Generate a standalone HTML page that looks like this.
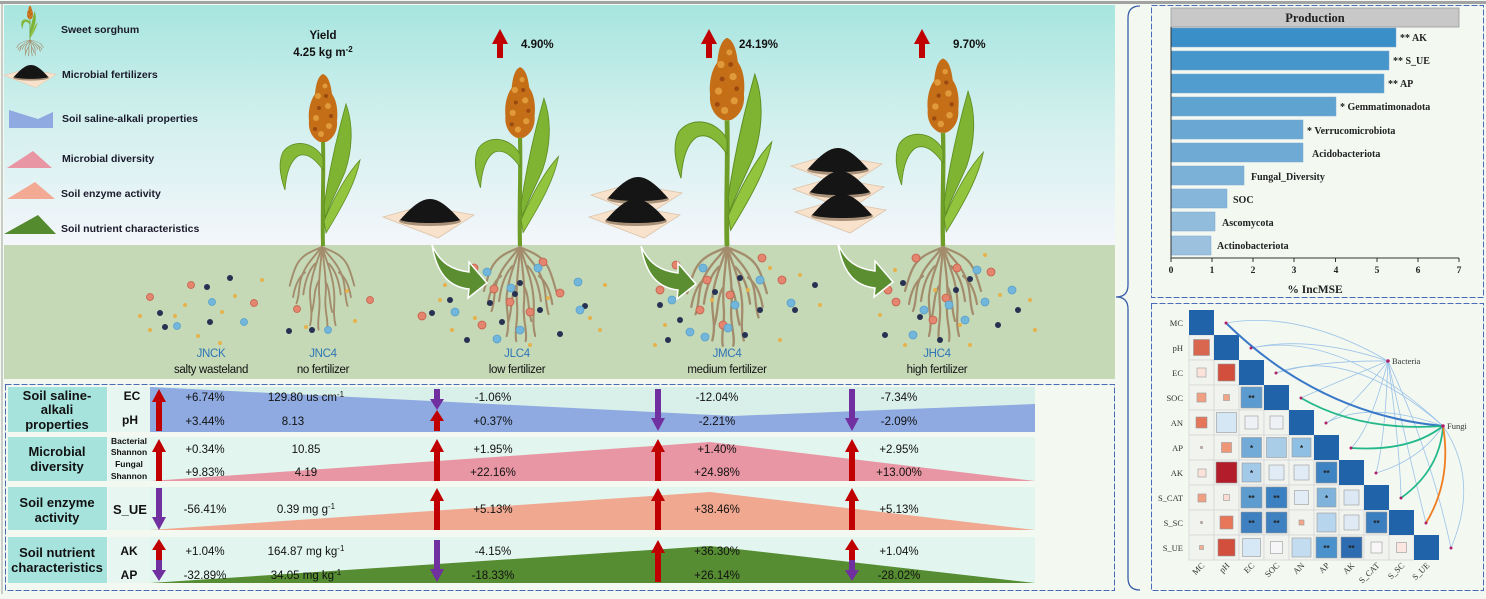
<!DOCTYPE html>
<html><head><meta charset="utf-8"><style>
html,body{margin:0;padding:0;background:#f3f8f1;}
svg{display:block;}
</style></head><body>
<svg width="1486" height="599" viewBox="0 0 1486 599" xmlns="http://www.w3.org/2000/svg" font-family="'Liberation Sans', Arial, sans-serif">
<defs>
<linearGradient id="sky" x1="0" y1="0" x2="0" y2="1">
<stop offset="0" stop-color="#a7e5df"/><stop offset="0.5" stop-color="#d3f0ee"/><stop offset="1" stop-color="#f4f6fb"/>
</linearGradient>
<g id="plant">
<path d="M0,-104 C1,-70 -1,-35 0,0" stroke="#6e9e28" stroke-width="4" fill="none"/>
<path d="M0,-88 C-8,-104 -30,-108 -40,-94 C-45,-84 -43,-70 -38,-56 C-37,-70 -34,-84 -25,-90 C-16,-94 -7,-86 0,-76 Z" fill="#86b838" stroke="#5e8e22" stroke-width="0.8"/>
<path d="M1,-40 C6,-75 14,-110 23,-142 C31,-120 29,-95 22,-74 C15,-57 8,-45 2,-28 Z" fill="#7fb332" stroke="#5e8e22" stroke-width="0.8"/>
<path d="M1,-25 C10,-46 23,-71 37,-86 C33,-65 22,-44 3,-13 Z" fill="#93c43e" stroke="#5e8e22" stroke-width="0.8"/>
<path d="M0,-172 C6,-170 8,-160 9,-152 C14,-145 15,-135 14,-125 C15,-115 10,-107 3,-104 L-3,-104 C-10,-107 -15,-115 -14,-125 C-15,-135 -13,-145 -8,-152 C-7,-162 -5,-170 0,-172 Z" fill="#c46e18"/>
<circle cx="-5" cy="-150" r="3" fill="#e09a3a"/><circle cx="5" cy="-140" r="3" fill="#e09a3a"/><circle cx="-7" cy="-128" r="3" fill="#e09a3a"/><circle cx="6" cy="-120" r="3" fill="#e09a3a"/><circle cx="-2" cy="-112" r="3" fill="#e09a3a"/><circle cx="2" cy="-160" r="2.5" fill="#e09a3a"/>
<circle cx="3" cy="-150" r="2" fill="#9a4a10"/><circle cx="-4" cy="-138" r="2" fill="#9a4a10"/><circle cx="8" cy="-130" r="2" fill="#9a4a10"/><circle cx="-8" cy="-117" r="2" fill="#9a4a10"/>
</g>
<g id="roots" stroke="#a38c6c" fill="none" stroke-width="2.2" stroke-linecap="round">
<path d="M0,0 C-6,10 -18,18 -24,35 C-28,45 -26,55 -30,65"/>
<path d="M0,0 C-4,15 -12,30 -14,50 C-15,65 -10,75 -14,90"/>
<path d="M0,0 C-1,20 -5,40 -3,60 C-2,75 -6,85 -4,95"/>
<path d="M0,0 C2,20 6,40 4,60 C3,75 8,85 6,95"/>
<path d="M0,0 C4,15 12,30 14,50 C16,65 12,75 16,90"/>
<path d="M0,0 C6,10 18,18 24,35 C28,45 26,55 30,68"/>
<path d="M-2,2 C-12,6 -24,10 -30,22 C-34,30 -36,38 -38,45"/>
<path d="M2,2 C12,6 24,10 30,22 C34,30 36,38 38,45"/>
<path d="M-8,20 C-16,28 -20,40 -22,55"/>
<path d="M8,20 C16,28 20,40 22,55"/>
<path d="M-4,40 C-10,50 -8,62 -12,75"/>
<path d="M4,40 C10,50 8,62 12,75"/>
<path d="M-20,30 C-28,36 -32,46 -34,58"/>
<path d="M20,30 C28,36 32,46 34,58"/>
</g>
<g id="pile">
<polygon points="-47,-1 -8,-12 44,-3 8,20" fill="#f8e2cc" stroke="#dcc4aa" stroke-width="0.8"/>
<ellipse cx="0" cy="3" rx="31" ry="5" fill="#a89078"/>
<path d="M-30,2 C-22,-7 -11,-19 0,-19 C11,-19 22,-7 30,2 C20,6 -20,6 -30,2Z" fill="#151515"/>
</g>
<path id="garrow" d="M0,0 C8,18 20,25 37,27 L37,17 L55,38 L36,53 L37,44 C18,42 5,30 0,0 Z" fill="#5a8e30" stroke="#ffffff" stroke-width="1.5"/>
<polygon id="aUF" points="0,0 7,13 3,13 3,42 -3,42 -3,13 -7,13" fill="#c00000"/>
<polygon id="aDF" points="0,42 7,29 3,29 3,0 -3,0 -3,29 -7,29" fill="#7030a0"/>
<polygon id="aUH" points="0,0 7,11 3,11 3,21 -3,21 -3,11 -7,11" fill="#c00000"/>
<polygon id="aDH" points="0,21 7,10 3,10 3,0 -3,0 -3,10 -7,10" fill="#7030a0"/>
<polygon id="yArr" points="0,0 8,15 3,15 3,29 -3,29 -3,15 -8,15" fill="#c00000"/>
</defs>

<rect x="0" y="0" width="1486" height="599" fill="#f3f8f1"/>
<rect x="0" y="1" width="1486" height="3" fill="#a2a2a2"/>
<rect x="1" y="4" width="2" height="590" fill="#c8cdc8"/>

<!-- sky & soil -->
<rect x="4" y="5" width="1111" height="240" fill="url(#sky)"/>
<rect x="4" y="245" width="1111" height="134" fill="#c5d9b7"/>

<!-- legend -->
<use href="#plant" transform="translate(30,40) scale(0.2)"/>
<use href="#roots" transform="translate(30,40) scale(0.35,0.17)"/>
<text x="61" y="33" font-size="10.5" font-weight="bold" fill="#1a1a2a">Sweet sorghum</text>
<g transform="translate(31,76) scale(0.58)"><use href="#pile"/></g>
<text x="62" y="78" font-size="10.5" font-weight="bold" fill="#1a1a2a">Microbial fertilizers</text>
<polygon points="9,110 38,119 53,112 53,128 9,128" fill="#8eaae0"/>
<text x="62" y="122" font-size="10.5" font-weight="bold" fill="#1a1a2a">Soil saline-alkali properties</text>
<polygon points="7,168 33,151 52,168" fill="#e996a4"/>
<text x="62" y="162" font-size="10.5" font-weight="bold" fill="#1a1a2a">Microbial diversity</text>
<polygon points="7,199 35,182 55,199" fill="#f2aa94"/>
<text x="61" y="197" font-size="10.5" font-weight="bold" fill="#1a1a2a">Soil enzyme activity</text>
<polygon points="4,234 38,215 56,234" fill="#558b2f"/>
<text x="61" y="232" font-size="10.5" font-weight="bold" fill="#1a1a2a">Soil nutrient characteristics</text>

<!-- yield texts -->
<text x="323" y="39" font-size="11.5" font-weight="bold" text-anchor="middle" fill="#111">Yield</text>
<text x="323" y="56" font-size="11.5" font-weight="bold" text-anchor="middle" fill="#111">4.25 kg m<tspan dy="-4" font-size="8">-2</tspan></text>
<use href="#yArr" x="500" y="29"/>
<text x="521" y="48" font-size="11.5" font-weight="bold" fill="#111">4.90%</text>
<use href="#yArr" x="709" y="29"/>
<text x="739" y="48" font-size="11.5" font-weight="bold" fill="#111">24.19%</text>
<use href="#yArr" x="922" y="29"/>
<text x="953" y="48" font-size="11.5" font-weight="bold" fill="#111">9.70%</text>

<!-- roots -->
<use href="#roots" transform="translate(322,246) scale(0.85,0.88)"/>
<use href="#roots" transform="translate(520,246) scale(0.95,1.0)"/>
<use href="#roots" transform="translate(727,246) scale(1.05,1.05)"/>
<use href="#roots" transform="translate(943,246) scale(1.0,1.0)"/>

<!-- dots -->
<g stroke-width="0.8">
<g fill="#e4856f" stroke="#c4604a">
<circle cx="150" cy="297" r="3.5"/><circle cx="191" cy="285" r="3.5"/><circle cx="297" cy="309" r="3.5"/><circle cx="370" cy="300" r="3.5"/><circle cx="254" cy="303" r="3.5"/>
<circle cx="422" cy="316" r="4"/><circle cx="474" cy="268" r="4"/><circle cx="494" cy="289" r="4"/><circle cx="510" cy="302" r="4"/><circle cx="543" cy="262" r="4"/><circle cx="560" cy="293" r="4"/><circle cx="482" cy="325" r="4"/><circle cx="530" cy="312" r="4"/>
<circle cx="660" cy="290" r="4"/><circle cx="676" cy="265" r="4"/><circle cx="707" cy="280" r="4"/><circle cx="730" cy="295" r="4"/><circle cx="762" cy="258" r="4"/><circle cx="782" cy="280" r="4"/><circle cx="700" cy="310" r="4"/><circle cx="723" cy="325" r="4"/>
<circle cx="888" cy="290" r="4"/><circle cx="896" cy="302" r="4"/><circle cx="916" cy="258" r="4"/><circle cx="957" cy="268" r="4"/><circle cx="946" cy="298" r="4"/><circle cx="991" cy="272" r="4"/><circle cx="933" cy="320" r="4"/>
</g>
<g fill="#283152">
<circle cx="160" cy="313" r="3"/><circle cx="165" cy="327" r="3"/><circle cx="210" cy="322" r="3"/><circle cx="207" cy="287" r="3"/><circle cx="289" cy="331" r="3"/><circle cx="312" cy="330" r="3"/><circle cx="230" cy="278" r="3"/>
<circle cx="432" cy="313" r="3"/><circle cx="450" cy="300" r="3"/><circle cx="490" cy="303" r="3"/><circle cx="502" cy="322" r="3"/><circle cx="515" cy="294" r="3"/><circle cx="540" cy="310" r="3"/><circle cx="560" cy="334" r="3"/><circle cx="585" cy="306" r="3"/><circle cx="520" cy="283" r="3"/><circle cx="467" cy="340" r="3"/>
<circle cx="660" cy="305" r="3"/><circle cx="680" cy="320" r="3"/><circle cx="715" cy="292" r="3"/><circle cx="740" cy="278" r="3"/><circle cx="760" cy="310" r="3"/><circle cx="795" cy="310" r="3"/><circle cx="668" cy="340" r="3"/><circle cx="745" cy="335" r="3"/><circle cx="815" cy="285" r="3"/>
<circle cx="903" cy="283" r="3"/><circle cx="920" cy="317" r="3"/><circle cx="956" cy="290" r="3"/><circle cx="970" cy="279" r="3"/><circle cx="998" cy="325" r="3"/><circle cx="1018" cy="310" r="3"/><circle cx="940" cy="340" r="3"/><circle cx="885" cy="335" r="3"/>
</g>
<g fill="#72b6dc" stroke="#5aa0c8">
<circle cx="177" cy="326" r="3.5"/><circle cx="212" cy="302" r="3.5"/><circle cx="244" cy="322" r="3.5"/><circle cx="328" cy="330" r="3.5"/>
<circle cx="455" cy="312" r="4"/><circle cx="487" cy="272" r="4"/><circle cx="511" cy="288" r="4"/><circle cx="538" cy="268" r="4"/><circle cx="578" cy="282" r="4"/><circle cx="580" cy="310" r="4"/><circle cx="520" cy="330" r="4"/><circle cx="497" cy="339" r="4"/>
<circle cx="672" cy="300" r="4"/><circle cx="703" cy="268" r="4"/><circle cx="735" cy="305" r="4"/><circle cx="760" cy="280" r="4"/><circle cx="791" cy="303" r="4"/><circle cx="690" cy="332" r="4"/><circle cx="728" cy="328" r="4"/><circle cx="705" cy="337" r="4"/>
<circle cx="924" cy="310" r="4"/><circle cx="949" cy="305" r="4"/><circle cx="977" cy="270" r="4"/><circle cx="965" cy="320" r="4"/><circle cx="1012" cy="290" r="4"/><circle cx="913" cy="335" r="4"/><circle cx="985" cy="302" r="4"/>
</g>
<g fill="#e6b24c">
<circle cx="185" cy="305" r="2"/><circle cx="175" cy="316" r="2"/><circle cx="198" cy="336" r="2"/><circle cx="222" cy="312" r="2"/><circle cx="262" cy="280" r="2"/><circle cx="306" cy="327" r="2"/><circle cx="347" cy="291" r="2"/><circle cx="355" cy="321" r="2"/><circle cx="220" cy="343" r="2"/><circle cx="150" cy="330" r="2"/><circle cx="140" cy="316" r="2"/><circle cx="235" cy="296" r="2"/>
<circle cx="440" cy="300" r="2"/><circle cx="452" cy="330" r="2"/><circle cx="475" cy="318" r="2"/><circle cx="548" cy="298" r="2"/><circle cx="590" cy="318" r="2"/><circle cx="470" cy="290" r="2"/><circle cx="605" cy="285" r="2"/><circle cx="600" cy="330" r="2"/><circle cx="530" cy="345" r="2"/><circle cx="445" cy="285" r="2"/>
<circle cx="650" cy="270" r="2"/><circle cx="665" cy="325" r="2"/><circle cx="690" cy="285" r="2"/><circle cx="712" cy="300" r="2"/><circle cx="748" cy="290" r="2"/><circle cx="770" cy="268" r="2"/><circle cx="800" cy="275" r="2"/><circle cx="820" cy="305" r="2"/><circle cx="655" cy="345" r="2"/><circle cx="780" cy="340" r="2"/>
<circle cx="880" cy="315" r="2"/><circle cx="895" cy="270" r="2"/><circle cx="935" cy="290" r="2"/><circle cx="960" cy="325" r="2"/><circle cx="985" cy="255" r="2"/><circle cx="1000" cy="295" r="2"/><circle cx="1030" cy="300" r="2"/><circle cx="1035" cy="330" r="2"/><circle cx="905" cy="345" r="2"/><circle cx="970" cy="345" r="2"/>
</g>
</g>

<!-- plants -->
<use href="#plant" transform="translate(323,246) scale(1)"/>
<use href="#plant" transform="translate(520,246) scale(1.04)"/>
<use href="#plant" transform="translate(727,246) scale(1.21)"/>
<use href="#plant" transform="translate(943,246) scale(1.09)"/>

<!-- fertilizer piles (top drawn first) -->
<use href="#pile" transform="translate(430,218)"/>
<use href="#pile" transform="translate(638,196)"/>
<use href="#pile" transform="translate(636,218)"/>
<use href="#pile" transform="translate(838,167)"/>
<use href="#pile" transform="translate(840,190)"/>
<use href="#pile" transform="translate(842,213)"/>

<!-- green arrows -->
<use href="#garrow" transform="translate(432,245)"/>
<use href="#garrow" transform="translate(641,246)"/>
<use href="#garrow" transform="translate(838,244)"/>

<!-- treatment labels -->
<g font-size="11.5" text-anchor="middle" letter-spacing="-0.3">
<text x="211" y="357" fill="#2e75b6">JNCK</text><text x="211" y="373" fill="#111">salty wasteland</text>
<text x="323" y="357" fill="#2e75b6">JNC4</text><text x="323" y="373" fill="#111">no fertilizer</text>
<text x="517" y="357" fill="#2e75b6">JLC4</text><text x="517" y="373" fill="#111">low fertilizer</text>
<text x="727" y="357" fill="#2e75b6">JMC4</text><text x="727" y="373" fill="#111">medium fertilizer</text>
<text x="937" y="357" fill="#2e75b6">JHC4</text><text x="937" y="373" fill="#111">high fertilizer</text>
</g>

<!-- ===== TABLE ===== -->
<rect x="5.5" y="384.5" width="1109" height="206" fill="none" stroke="#4a6cb8" stroke-width="1" stroke-dasharray="6 2"/>
<g>
<rect x="8" y="387" width="99" height="45" fill="#a6e3dd"/>
<rect x="8" y="437" width="99" height="44" fill="#a6e3dd"/>
<rect x="8" y="487" width="99" height="43" fill="#a6e3dd"/>
<rect x="8" y="537" width="99" height="46" fill="#a6e3dd"/>
<rect x="108" y="387" width="42" height="45" fill="#e8f6f2"/>
<rect x="108" y="437" width="42" height="44" fill="#e8f6f2"/>
<rect x="108" y="487" width="42" height="43" fill="#e8f6f2"/>
<rect x="108" y="537" width="42" height="46" fill="#e8f6f2"/>
<rect x="150" y="387" width="885" height="45" fill="#d9efea"/>
<rect x="150" y="437" width="885" height="44" fill="#e2f5ef"/>
<rect x="150" y="487" width="885" height="43" fill="#e2f5ef"/>
<rect x="150" y="537" width="885" height="46" fill="#e2f5ef"/>
</g>
<polygon points="150,387 733,416 1035,404 1035,432 150,432" fill="#8eaae0"/>
<polygon points="150,481 710,442 1035,481" fill="#e996a4"/>
<polygon points="150,530 710,492 1035,530" fill="#f0a890"/>
<polygon points="150,583 710,546 1035,583" fill="#568c32"/>

<g font-size="13" font-weight="bold" text-anchor="middle" fill="#111">
<text x="57" y="400">Soil saline-</text><text x="57" y="414">alkali</text><text x="57" y="429">properties</text>
<text x="57" y="456">Microbial</text><text x="57" y="471">diversity</text>
<text x="57" y="507">Soil enzyme</text><text x="57" y="522">activity</text>
<text x="57" y="557">Soil nutrient</text><text x="57" y="572">characteristics</text>
<text x="132" y="400" font-size="12">EC</text><text x="130" y="424" font-size="12">pH</text>
<text x="130" y="514">S_UE</text>
<text x="129" y="555" font-size="12">AK</text><text x="129" y="579" font-size="12">AP</text>
<g font-size="8.5"><text x="129" y="444">Bacterial</text><text x="129" y="455">Shannon</text><text x="129" y="467">Fungal</text><text x="129" y="479">Shannon</text></g>
</g>

<g font-size="11.5" text-anchor="middle" fill="#111">
<text x="205" y="401">+6.74%</text><text x="306" y="401">129.80 us cm<tspan dy="-4" font-size="8">-1</tspan></text><text x="493" y="401">-1.06%</text><text x="717" y="401">-12.04%</text><text x="899" y="401">-7.34%</text>
<text x="205" y="425">+3.44%</text><text x="293" y="425">8.13</text><text x="493" y="425">+0.37%</text><text x="717" y="425">-2.21%</text><text x="899" y="425">-2.09%</text>
<text x="205" y="453">+0.34%</text><text x="306" y="453">10.85</text><text x="493" y="453">+1.95%</text><text x="717" y="453">+1.40%</text><text x="899" y="453">+2.95%</text>
<text x="205" y="476">+9.83%</text><text x="306" y="476">4.19</text><text x="493" y="476">+22.16%</text><text x="717" y="476">+24.98%</text><text x="899" y="476">+13.00%</text>
<text x="205" y="513">-56.41%</text><text x="306" y="513">0.39 mg g<tspan dy="-4" font-size="8">-1</tspan></text><text x="493" y="513">+5.13%</text><text x="717" y="513">+38.46%</text><text x="899" y="513">+5.13%</text>
<text x="205" y="555">+1.04%</text><text x="306" y="555">164.87 mg kg<tspan dy="-4" font-size="8">-1</tspan></text><text x="493" y="555">-4.15%</text><text x="717" y="555">+36.30%</text><text x="899" y="555">+1.04%</text>
<text x="205" y="579">-32.89%</text><text x="306" y="579">34.05 mg kg<tspan dy="-4" font-size="8">-1</tspan></text><text x="493" y="579">-18.33%</text><text x="717" y="579">+26.14%</text><text x="899" y="579">-28.02%</text>
</g>

<!-- table arrows -->
<use href="#aUF" x="159" y="389"/><use href="#aDH" x="437" y="389"/><use href="#aUH" x="437" y="410"/><use href="#aDF" x="658" y="389"/><use href="#aDF" x="852" y="389"/>
<use href="#aUF" x="159" y="439"/><use href="#aUF" x="437" y="439"/><use href="#aUF" x="658" y="439"/><use href="#aUF" x="852" y="439"/>
<use href="#aDF" x="159" y="488"/><use href="#aUF" x="437" y="488"/><use href="#aUF" x="658" y="488"/><use href="#aUF" x="852" y="488"/>
<use href="#aUH" x="159" y="539"/><use href="#aDH" x="159" y="560"/><use href="#aDF" x="437" y="540"/><use href="#aUF" x="658" y="540"/><use href="#aUH" x="852" y="539"/><use href="#aDH" x="852" y="560"/>

<!-- brace -->
<path d="M1140,6 Q1128,6 1128,18 L1128,285 Q1128,297 1116,297 Q1128,297 1128,309 L1128,578 Q1128,590 1140,590" fill="none" stroke="#3a5fa8" stroke-width="1.3"/>

<!-- ===== BAR CHART ===== -->
<rect x="1151.5" y="5.5" width="332" height="292" fill="none" stroke="#4a6cb8" stroke-dasharray="6 2"/>
<rect x="1171" y="8" width="288" height="19" fill="#c8c8c8" stroke="#9a9a9a" stroke-width="0.8"/>
<text x="1315" y="22" font-family="'Liberation Serif', serif" font-size="12.5" font-weight="bold" text-anchor="middle" fill="#222">Production</text>
<g stroke="#7aa6d0" stroke-width="0.5">
<rect x="1171" y="28" width="225" height="19" fill="#3a8fc8"/>
<rect x="1171" y="51" width="218" height="19" fill="#4696cc"/>
<rect x="1171" y="74" width="213" height="19" fill="#529dcf"/>
<rect x="1171" y="97" width="165" height="19" fill="#5fa3d1"/>
<rect x="1171" y="120" width="132" height="19" fill="#6aa8d3"/>
<rect x="1171" y="143" width="132" height="19" fill="#6eaad4"/>
<rect x="1171" y="166" width="73" height="19" fill="#7cb1d7"/>
<rect x="1171" y="189" width="56" height="19" fill="#86b6da"/>
<rect x="1171" y="212" width="44" height="19" fill="#92bcdc"/>
<rect x="1171" y="236" width="40" height="19" fill="#9bc1de"/>
</g>
<g font-family="'Liberation Serif', serif" font-size="10" font-weight="bold" fill="#222">
<text x="1400" y="41">** AK</text>
<text x="1393" y="64">** S_UE</text>
<text x="1388" y="87">** AP</text>
<text x="1340" y="110">* Gemmatimonadota</text>
<text x="1307" y="134">* Verrucomicrobiota</text>
<text x="1312" y="157">Acidobacteriota</text>
<text x="1251" y="180">Fungal_Diversity</text>
<text x="1233" y="203">SOC</text>
<text x="1222" y="226">Ascomycota</text>
<text x="1217" y="249">Actinobacteriota</text>
</g>
<line x1="1171" y1="27" x2="1171" y2="258" stroke="#333" stroke-width="1"/>
<line x1="1171" y1="258" x2="1459" y2="258" stroke="#333" stroke-width="1"/>
<g stroke="#333" stroke-width="1">
<line x1="1171" y1="258" x2="1171" y2="262"/><line x1="1212" y1="258" x2="1212" y2="262"/><line x1="1253" y1="258" x2="1253" y2="262"/><line x1="1294" y1="258" x2="1294" y2="262"/><line x1="1335.5" y1="258" x2="1335.5" y2="262"/><line x1="1377" y1="258" x2="1377" y2="262"/><line x1="1418" y1="258" x2="1418" y2="262"/><line x1="1459" y1="258" x2="1459" y2="262"/>
</g>
<g font-family="'Liberation Serif', serif" font-size="9.5" font-weight="bold" fill="#222" text-anchor="middle">
<text x="1171" y="273">0</text><text x="1212" y="273">1</text><text x="1253" y="273">2</text><text x="1294" y="273">3</text><text x="1336" y="273">4</text><text x="1377" y="273">5</text><text x="1418" y="273">6</text><text x="1459" y="273">7</text>
<text x="1315" y="293" font-size="11.5">% IncMSE</text>
</g>

<!-- ===== CORRELATION ===== -->
<rect x="1151.5" y="303.5" width="332" height="287" fill="none" stroke="#4a6cb8" stroke-dasharray="6 2"/>
<g fill="#f1f3ef" stroke="#d6d6d6" stroke-width="0.8">
<rect x="1189" y="335" width="25" height="25"/>
<rect x="1189" y="360" width="25" height="25"/><rect x="1214" y="360" width="25" height="25"/>
<rect x="1189" y="385" width="25" height="25"/><rect x="1214" y="385" width="25" height="25"/><rect x="1239" y="385" width="25" height="25"/>
<rect x="1189" y="410" width="25" height="25"/><rect x="1214" y="410" width="25" height="25"/><rect x="1239" y="410" width="25" height="25"/><rect x="1264" y="410" width="25" height="25"/>
<rect x="1189" y="435" width="25" height="25"/><rect x="1214" y="435" width="25" height="25"/><rect x="1239" y="435" width="25" height="25"/><rect x="1264" y="435" width="25" height="25"/><rect x="1289" y="435" width="25" height="25"/>
<rect x="1189" y="460" width="25" height="25"/><rect x="1214" y="460" width="25" height="25"/><rect x="1239" y="460" width="25" height="25"/><rect x="1264" y="460" width="25" height="25"/><rect x="1289" y="460" width="25" height="25"/><rect x="1314" y="460" width="25" height="25"/>
<rect x="1189" y="485" width="25" height="25"/><rect x="1214" y="485" width="25" height="25"/><rect x="1239" y="485" width="25" height="25"/><rect x="1264" y="485" width="25" height="25"/><rect x="1289" y="485" width="25" height="25"/><rect x="1314" y="485" width="25" height="25"/><rect x="1339" y="485" width="25" height="25"/>
<rect x="1189" y="510" width="25" height="25"/><rect x="1214" y="510" width="25" height="25"/><rect x="1239" y="510" width="25" height="25"/><rect x="1264" y="510" width="25" height="25"/><rect x="1289" y="510" width="25" height="25"/><rect x="1314" y="510" width="25" height="25"/><rect x="1339" y="510" width="25" height="25"/><rect x="1364" y="510" width="25" height="25"/>
<rect x="1189" y="535" width="25" height="25"/><rect x="1214" y="535" width="25" height="25"/><rect x="1239" y="535" width="25" height="25"/><rect x="1264" y="535" width="25" height="25"/><rect x="1289" y="535" width="25" height="25"/><rect x="1314" y="535" width="25" height="25"/><rect x="1339" y="535" width="25" height="25"/><rect x="1364" y="535" width="25" height="25"/><rect x="1389" y="535" width="25" height="25"/>
</g>
<g fill="#2163a9">
<rect x="1189" y="310" width="25" height="25"/><rect x="1214" y="335" width="25" height="25"/><rect x="1239" y="360" width="25" height="25"/><rect x="1264" y="385" width="25" height="25"/><rect x="1289" y="410" width="25" height="25"/><rect x="1314" y="435" width="25" height="25"/><rect x="1339" y="460" width="25" height="25"/><rect x="1364" y="485" width="25" height="25"/><rect x="1389" y="510" width="25" height="25"/><rect x="1414" y="535" width="25" height="25"/>
</g>
<g stroke="#9a9a9a" stroke-width="0.6">
<rect x="1193.5" y="339.5" width="16" height="16" fill="#d9664e"/>
<rect x="1197" y="368" width="9" height="9" fill="#fbe3da"/><rect x="1218" y="364" width="17" height="17" fill="#d24e3d"/>
<rect x="1197" y="393" width="9" height="9" fill="#f0a080"/><rect x="1223.5" y="394.5" width="6" height="6" fill="#f2a585"/><rect x="1241" y="387" width="21" height="21" fill="#5b9bd0"/>
<rect x="1196" y="417" width="11" height="11" fill="#e6765a"/><rect x="1216.5" y="412.5" width="20" height="20" fill="#d5e6f4"/><rect x="1245" y="416" width="13" height="13" fill="#eef2f6"/><rect x="1270" y="416" width="13" height="13" fill="#eef2f6"/>
<rect x="1200.5" y="446.5" width="2" height="2" fill="#d0a090"/><rect x="1221.5" y="442.5" width="10" height="10" fill="#ee9676"/><rect x="1241.5" y="437.5" width="20" height="20" fill="#72abd8"/><rect x="1266.5" y="437.5" width="20" height="20" fill="#a9cde7"/><rect x="1292" y="438" width="19" height="19" fill="#8fbfe2"/>
<rect x="1198" y="469" width="8" height="8" fill="#fbe2da"/><rect x="1216" y="462" width="21" height="21" fill="#b21c2b"/><rect x="1242" y="463" width="19" height="19" fill="#a3c9e8"/><rect x="1269" y="465" width="15" height="15" fill="#e0ebf6"/><rect x="1294" y="465" width="15" height="15" fill="#e0ebf6"/><rect x="1316" y="462" width="21" height="21" fill="#3e84c3"/>
<rect x="1198" y="494" width="8" height="8" fill="#f0a080"/><rect x="1223.5" y="494.5" width="6" height="6" fill="#fbdcd2"/><rect x="1241" y="487" width="21" height="21" fill="#5c9ccf"/><rect x="1266" y="487" width="21" height="21" fill="#3b80c0"/><rect x="1294.5" y="490.5" width="14" height="14" fill="#e2ecf6"/><rect x="1317" y="488" width="19" height="19" fill="#7fb3dc"/><rect x="1344" y="490" width="15" height="15" fill="#dce8f4"/>
<rect x="1200.5" y="521.5" width="2" height="2" fill="#d0a090"/><rect x="1220" y="516" width="13" height="13" fill="#e8775a"/><rect x="1241" y="512" width="21" height="21" fill="#3e80c0"/><rect x="1266" y="512" width="21" height="21" fill="#3e80c0"/><rect x="1299" y="520" width="5" height="5" fill="#f4a688"/><rect x="1317" y="513" width="19" height="19" fill="#b7d5ec"/><rect x="1344" y="515" width="15" height="15" fill="#dfeaf5"/><rect x="1366" y="512" width="21" height="21" fill="#3c7fc0"/>
<rect x="1199.5" y="545.5" width="4" height="4" fill="#f2b090"/><rect x="1218" y="539" width="17" height="17" fill="#d24e3d"/><rect x="1242.5" y="538.5" width="18" height="18" fill="#d6e7f5"/><rect x="1270.5" y="541.5" width="12" height="12" fill="#f6f6f8"/><rect x="1292" y="538" width="19" height="19" fill="#c4dcf0"/><rect x="1316" y="537" width="21" height="21" fill="#4b92cd"/><rect x="1341" y="537" width="21" height="21" fill="#2d6cb0"/><rect x="1371" y="542" width="11" height="11" fill="#f8f6f6"/><rect x="1396.5" y="542.5" width="10" height="10" fill="#fbe6e0"/>
</g>
<g font-size="8" fill="#222" text-anchor="middle" font-weight="bold">
<text x="1251.5" y="401">**</text>
<text x="1251.5" y="451">*</text><text x="1301.5" y="451">*</text>
<text x="1251.5" y="476">*</text><text x="1326.5" y="476">**</text>
<text x="1251.5" y="501">**</text><text x="1276.5" y="501">**</text><text x="1326.5" y="501">*</text>
<text x="1251.5" y="526">**</text><text x="1276.5" y="526">**</text><text x="1376.5" y="526">**</text>
<text x="1326.5" y="551">**</text><text x="1351.5" y="551">**</text>
</g>
<g font-family="'Liberation Serif', serif" font-size="8.5" fill="#333" text-anchor="end">
<text x="1183" y="326">MC</text><text x="1183" y="351">pH</text><text x="1183" y="376">EC</text><text x="1183" y="401">SOC</text><text x="1183" y="426">AN</text><text x="1183" y="451">AP</text><text x="1183" y="476">AK</text><text x="1183" y="501">S_CAT</text><text x="1183" y="526">S_SC</text><text x="1183" y="551">S_UE</text>
</g>
<g font-family="'Liberation Serif', serif" font-size="8.5" fill="#333" text-anchor="end">
<text transform="translate(1205,566) rotate(-45)">MC</text>
<text transform="translate(1230,566) rotate(-45)">pH</text>
<text transform="translate(1255,566) rotate(-45)">EC</text>
<text transform="translate(1280,566) rotate(-45)">SOC</text>
<text transform="translate(1305,566) rotate(-45)">AN</text>
<text transform="translate(1330,566) rotate(-45)">AP</text>
<text transform="translate(1355,566) rotate(-45)">AK</text>
<text transform="translate(1380,566) rotate(-45)">S_CAT</text>
<text transform="translate(1405,566) rotate(-45)">S_SC</text>
<text transform="translate(1430,566) rotate(-45)">S_UE</text>
</g>
<g fill="none" stroke="#9cc3e8" stroke-width="0.8">
<path d="M1388,361 Q1300,310 1226,323"/><path d="M1388,361 Q1310,335 1251,348"/><path d="M1388,361 Q1320,360 1276,373"/><path d="M1388,361 Q1330,385 1301,398"/><path d="M1388,361 Q1350,410 1326,423"/><path d="M1388,361 Q1370,430 1351,448"/><path d="M1388,361 Q1385,440 1376,473"/><path d="M1388,361 Q1400,450 1401,498"/><path d="M1388,361 Q1410,460 1426,523"/><path d="M1388,361 Q1430,450 1451,548"/>
<path d="M1443,426 Q1340,330 1251,348"/><path d="M1443,426 Q1350,345 1276,373"/><path d="M1443,426 Q1370,400 1326,423"/><path d="M1443,426 Q1420,460 1376,473"/><path d="M1443,426 Q1480,480 1451,548"/>
</g>
<path d="M1226,323 Q1320,415 1443,426" fill="none" stroke="#3a78c8" stroke-width="2"/>
<path d="M1301,398 Q1360,432 1443,426" fill="none" stroke="#22b88a" stroke-width="1.8"/>
<path d="M1351,448 Q1410,452 1443,426" fill="none" stroke="#22b88a" stroke-width="1.8"/>
<path d="M1401,498 Q1440,470 1443,426" fill="none" stroke="#22b88a" stroke-width="1.8"/>
<path d="M1426,523 Q1452,480 1443,426" fill="none" stroke="#f07c20" stroke-width="1.8"/>
<g fill="#b0206a">
<circle cx="1226" cy="323" r="1.5"/><circle cx="1251" cy="348" r="1.5"/><circle cx="1276" cy="373" r="1.5"/><circle cx="1301" cy="398" r="1.5"/><circle cx="1326" cy="423" r="1.5"/><circle cx="1351" cy="448" r="1.5"/><circle cx="1376" cy="473" r="1.5"/><circle cx="1401" cy="498" r="1.5"/><circle cx="1426" cy="523" r="1.5"/><circle cx="1451" cy="548" r="1.5"/>
<circle cx="1388" cy="361" r="1.8"/><circle cx="1443" cy="426" r="1.8"/>
</g>
<g font-family="'Liberation Serif', serif" font-size="8.5" fill="#333">
<text x="1392" y="364">Bacteria</text><text x="1447" y="429">Fungi</text>
</g>
</svg>
</body></html>
